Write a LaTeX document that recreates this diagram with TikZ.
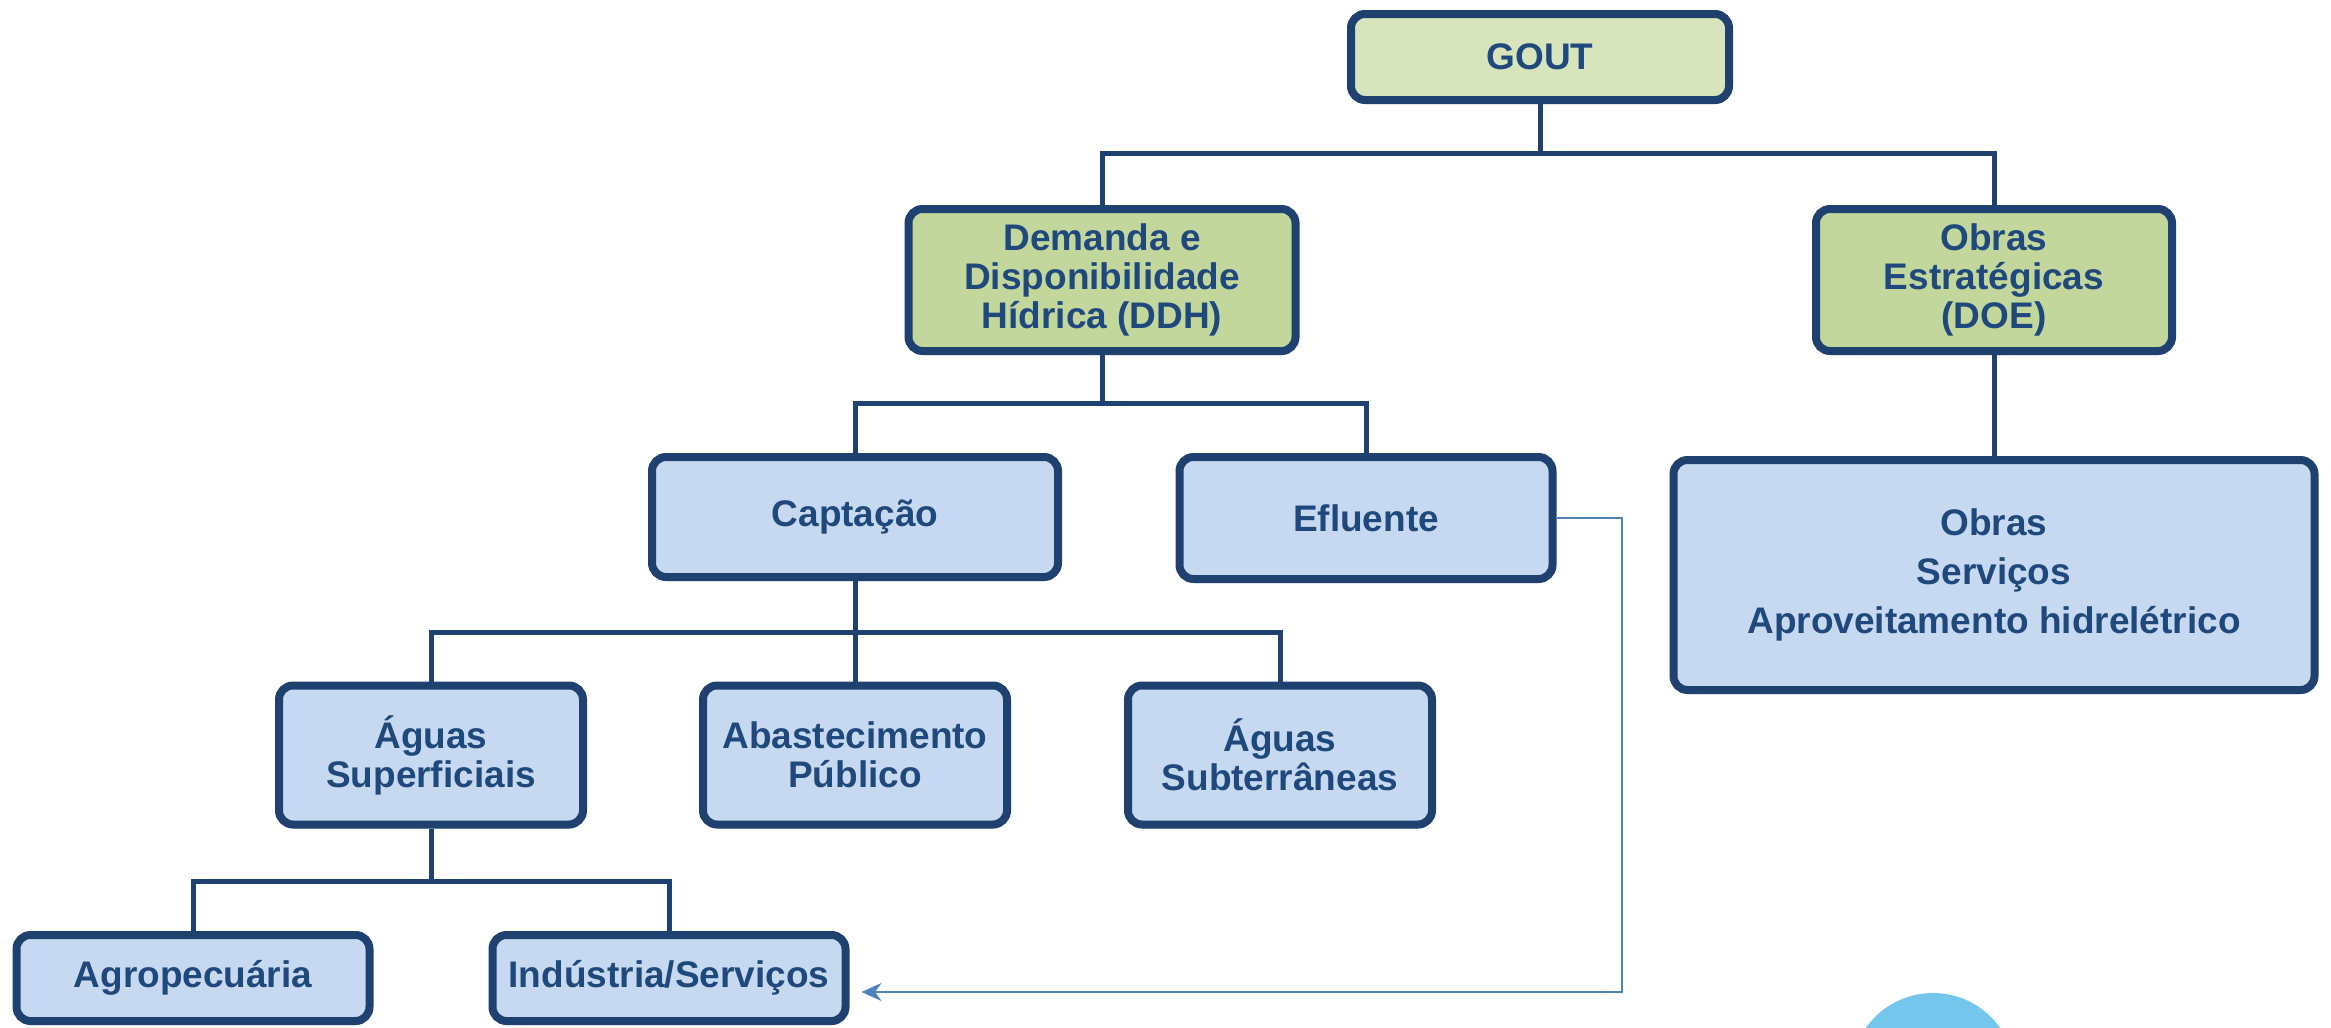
\documentclass[tikz,border=0pt]{standalone}
\usepackage{fontspec}
\setmainfont{Liberation Sans}
\usetikzlibrary{shadows,calc,arrows.meta}
\definecolor{bordc}{RGB}{30,65,112}
\definecolor{txtc}{RGB}{31,73,125}
\definecolor{bluef}{RGB}{198,217,241}
\definecolor{greenl}{RGB}{216,228,188}
\definecolor{greend}{RGB}{195,214,155}
\definecolor{arrc}{RGB}{79,129,189}
\definecolor{blobc}{RGB}{117,198,236}
\tikzset{
  box/.style={draw=bordc, line width=4pt, rounded corners=7pt, fill=bluef,
    text=txtc, align=center, inner sep=2pt,
    font=\fontsize{18.5}{19.5}\selectfont\bfseries,
    drop shadow={shadow xshift=0.6pt, shadow yshift=-2pt, opacity=0.3}},
  gbox/.style={box, fill=greend},
  conn/.style={draw=bordc, line width=2.5pt, line join=miter},
  flowline/.style={draw=arrc, line width=1.1pt, -{Stealth[length=10pt,width=9pt]}}
}
\begin{document}
\begin{tikzpicture}[x=0.5pt,y=-0.5pt]
\clip (0,0) rectangle (2331,1028);
\fill[white] (0,0) rectangle (2331,1028);
\fill[blobc] (1933,1075) circle [radius=82];

\node[gbox, fill=greenl, minimum width=189pt, minimum height=43pt] (gout) at (1540,57) {GOUT};
\node[gbox, minimum width=193.5pt, minimum height=71pt] (ddh) at (1102,280) {Demanda e\\Disponibilidade\\Hídrica (DDH)};
\node[gbox, minimum width=178pt, minimum height=71pt] (doe) at (1994,280) {Obras\\Estratégicas\\(DOE)};
\node[box, minimum width=320.5pt, minimum height=115pt, font=\fontsize{18.5}{24.5}\selectfont\bfseries] (obras) at (1994,575) {Obras\\Serviços\\Aproveitamento hidrelétrico};
\node[box, minimum width=203pt, minimum height=60pt] (cap) at (855,517) {Captação};
\node[box, minimum width=186.5pt, minimum height=61pt] (efl) at (1366,518) {Efluente};
\node[box, minimum width=152pt, minimum height=69.5pt] (sup) at (431,755) {Águas\\Superficiais};
\node[box, minimum width=152pt, minimum height=69.5pt] (abast) at (855,755) {Abastecimento\\Público};
\node[box, minimum width=152pt, minimum height=69.5pt] (sub) at (1280,755) {Águas\\Subterrâneas};
\node[box, minimum width=176.5pt, minimum height=43pt] (agro) at (193,978) {Agropecuária};
\node[box, minimum width=176.5pt, minimum height=43pt] (ind) at (669,978) {Indústria/Serviços};

\coordinate (b1) at (1540,153);
\coordinate (b2) at (1102,403);
\coordinate (b3) at (855,632);
\coordinate (b4) at (431,881);
\coordinate (c1) at (1622,992);

\draw[conn] (gout.south) -- (b1);
\draw[conn] (ddh.north) |- (b1) -| (doe.north);
\draw[conn] (ddh.south) -- (b2);
\draw[conn] (cap.north) |- (b2) -| (efl.north);
\draw[conn] (doe.south) -- (obras.north);
\draw[conn] (cap.south) -- (abast.north);
\draw[conn] (sup.north) |- (b3) -| (sub.north);
\draw[conn] (sup.south) -- (b4);
\draw[conn] (agro.north) |- (b4) -| (ind.north);
\draw[flowline] (efl.east) -| (c1) -- ($(ind.east |- c1)+(12,0)$);
\end{tikzpicture}
\end{document}
